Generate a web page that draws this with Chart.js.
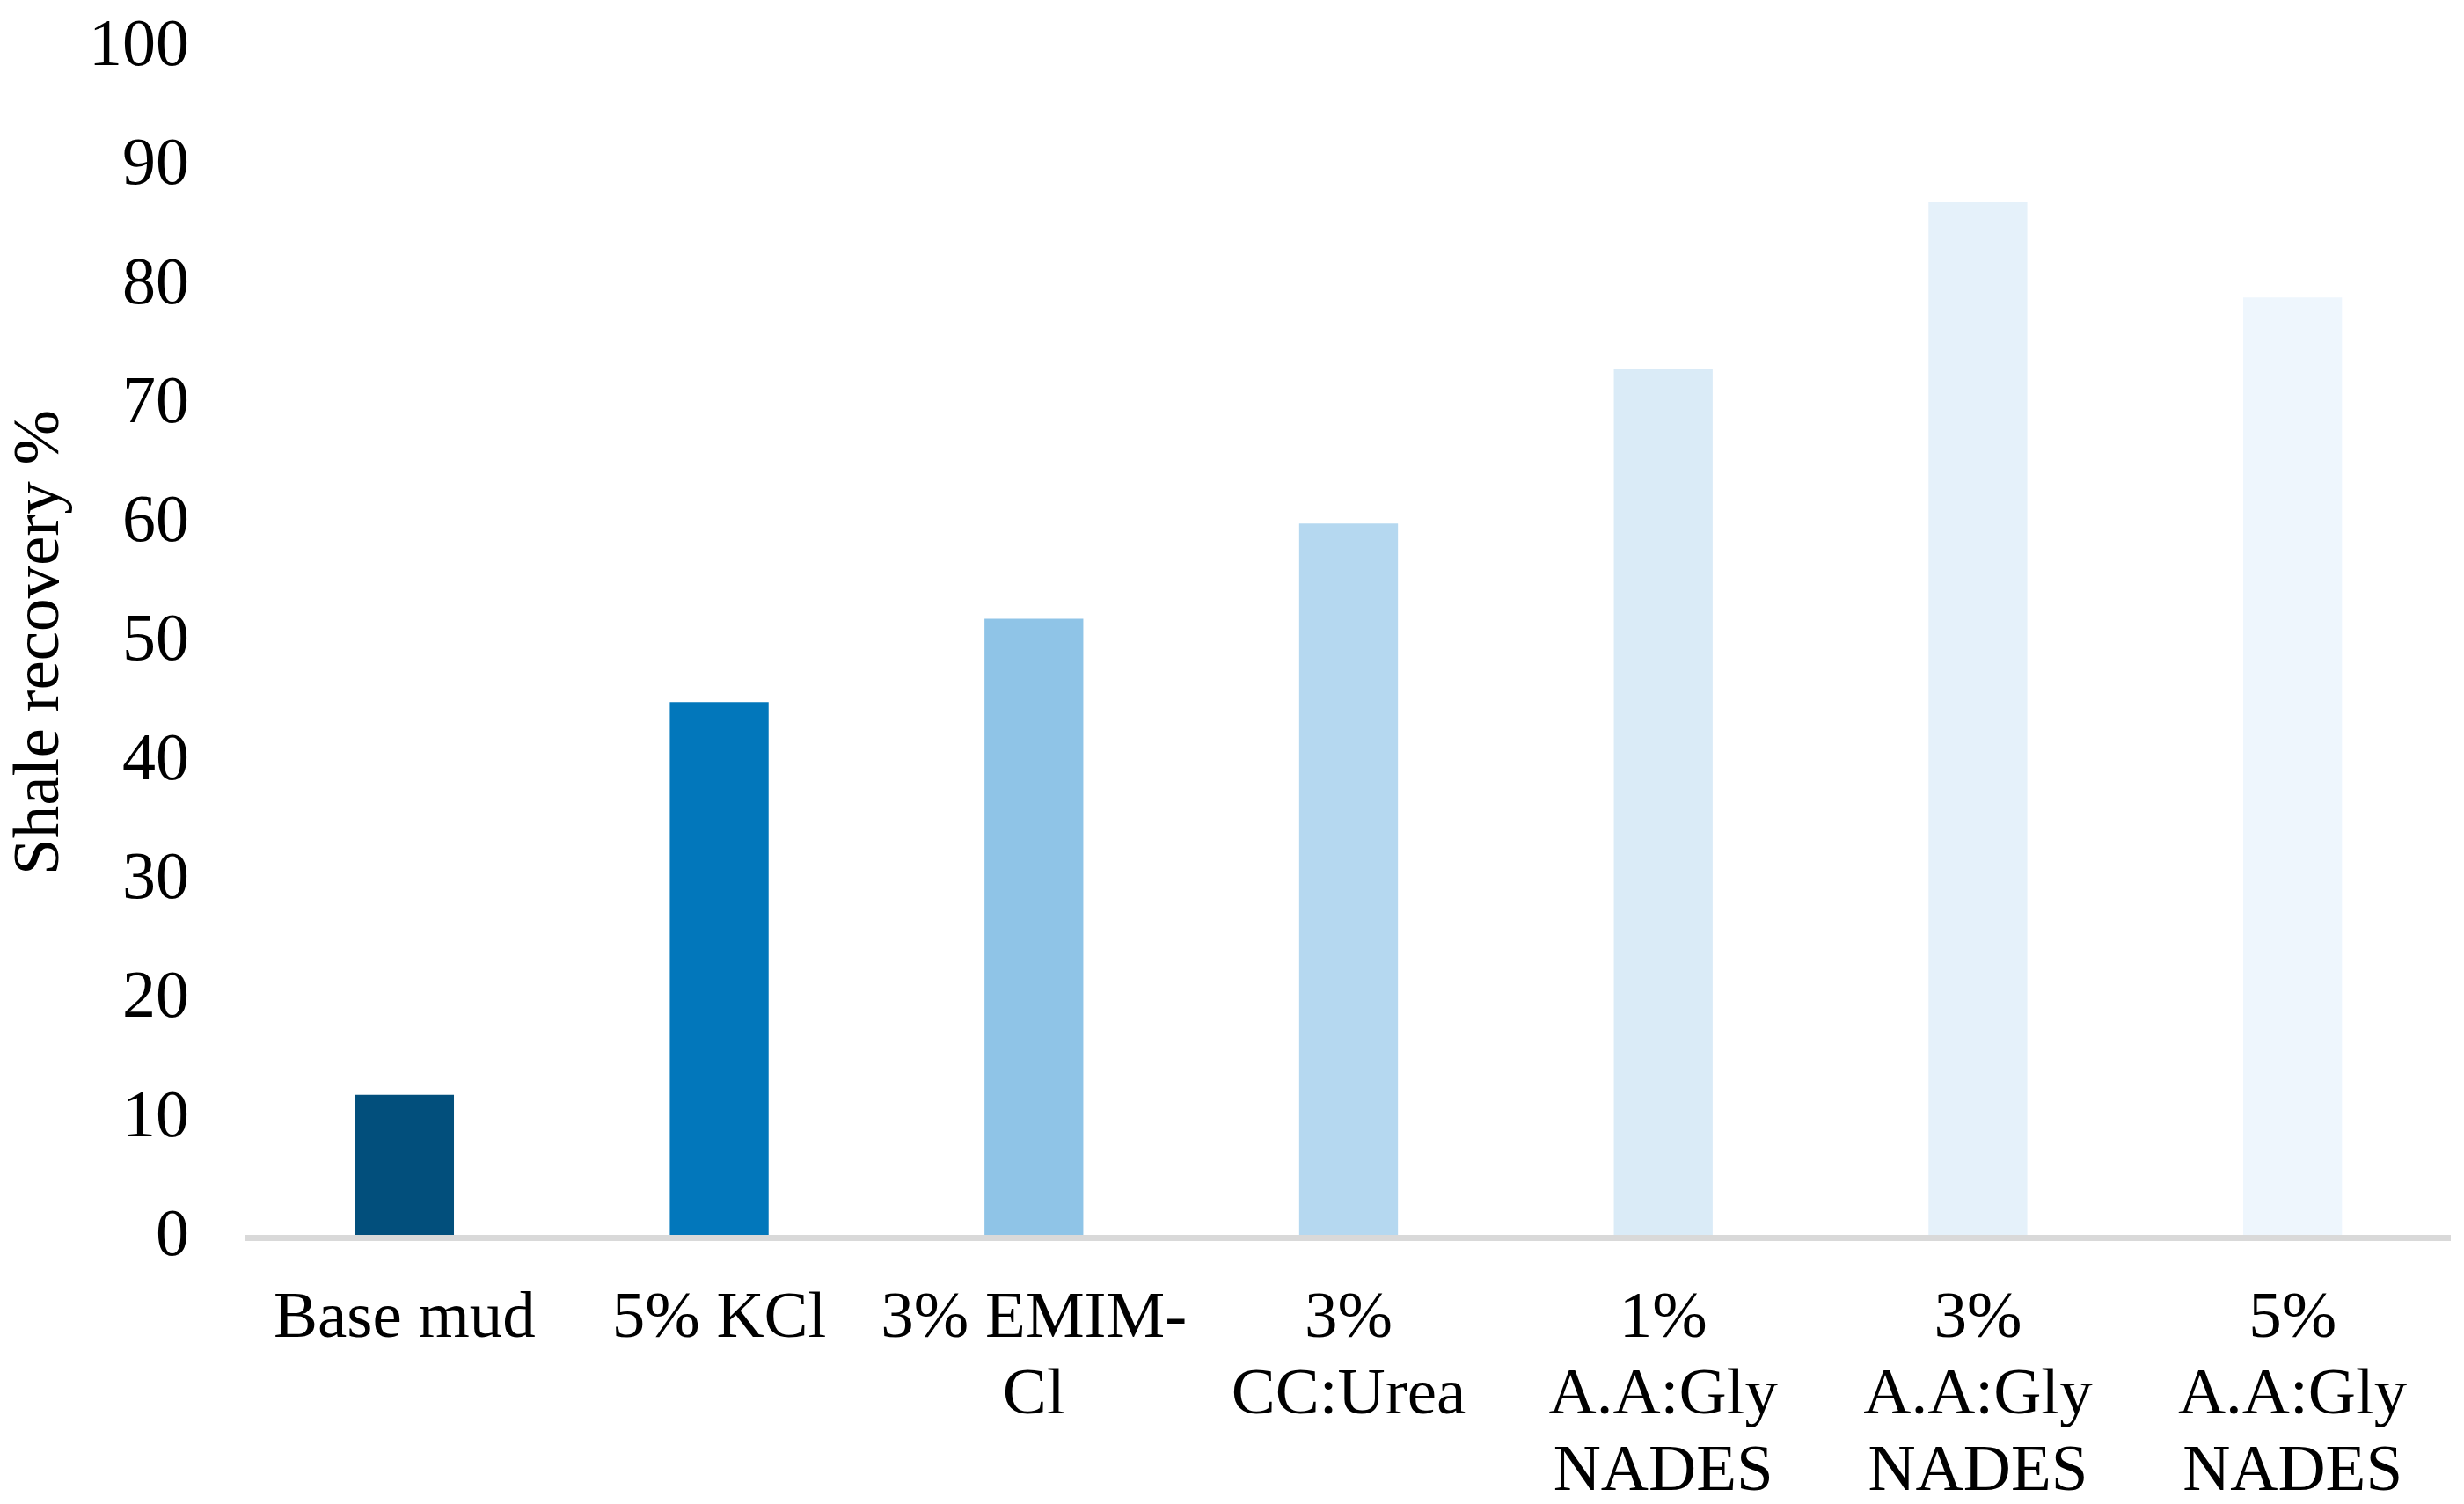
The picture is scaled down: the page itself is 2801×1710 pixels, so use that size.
<!DOCTYPE html>
<html>
<head>
<meta charset="utf-8">
<script src="https://cdn.jsdelivr.net/npm/chart.js@4"></script>
<style>
  html, body { margin: 0; padding: 0; background: #ffffff; }
  #wrap { width: 2801px; height: 1710px; }
</style>
</head>
<body>
<div id="wrap"><canvas id="c" width="2801" height="1710" style="width:2801px;height:1710px"></canvas></div>
<script>
const categories = [
  ["Base mud"],
  ["5% KCl"],
  ["3% EMIM-", "Cl"],
  ["3%", "CC:Urea"],
  ["1%", "A.A:Gly", "NADES"],
  ["3%", "A.A:Gly", "NADES"],
  ["5%", "A.A:Gly", "NADES"]
];
const recovery = [12, 45, 52, 60, 73, 87, 79];
const barColors = ["#024F7C", "#0277BB", "#8FC4E7", "#B5D8F0", "#DAEBF7", "#E5F1FA", "#EEF6FD"];
const yTitle = "Shale recovery %";
const yMin = 0, yMax = 100, yStep = 10;

const FONT = "'Liberation Serif', 'Times New Roman', serif";

new Chart(document.getElementById('c'), {
  type: 'bar',
  data: {
    labels: categories,
    datasets: [{
      data: recovery,
      backgroundColor: barColors,
      borderWidth: 0,
      categoryPercentage: 1.0,
      barPercentage: 0.314
    }]
  },
  options: {
    responsive: false,
    devicePixelRatio: 1,
    animation: false,
    layout: { padding: { top: 54, right: 16, left: 0, bottom: 0 } },
    plugins: { legend: { display: false }, tooltip: { enabled: false } },
    scales: {
      x: {
        grid: { display: false, drawTicks: false },
        border: { display: true, color: '#D9D9D9', width: 7, z: 1 },
        ticks: {
          color: '#000000',
          font: { family: FONT, size: 75, lineHeight: 1.16 },
          padding: 50,
          maxRotation: 0,
          minRotation: 0,
          autoSkip: false
        },
        afterFit: (s) => { s.height = 303; s.paddingLeft = 0; s.paddingRight = 0; }
      },
      y: {
        min: yMin,
        max: yMax,
        grid: { display: false, drawTicks: false },
        border: { display: false },
        ticks: {
          stepSize: yStep,
          color: '#000000',
          font: { family: FONT, size: 76 },
          padding: 66
        },
        title: {
          display: true,
          text: yTitle,
          color: '#000000',
          font: { family: FONT, size: 75, lineHeight: 1.147 },
          padding: { top: 3, bottom: 0 }
        },
        afterFit: (s) => { s.width = 281; s.paddingTop = 0; s.paddingBottom = 0; }
      }
    }
  }
});
</script>
</body>
</html>
